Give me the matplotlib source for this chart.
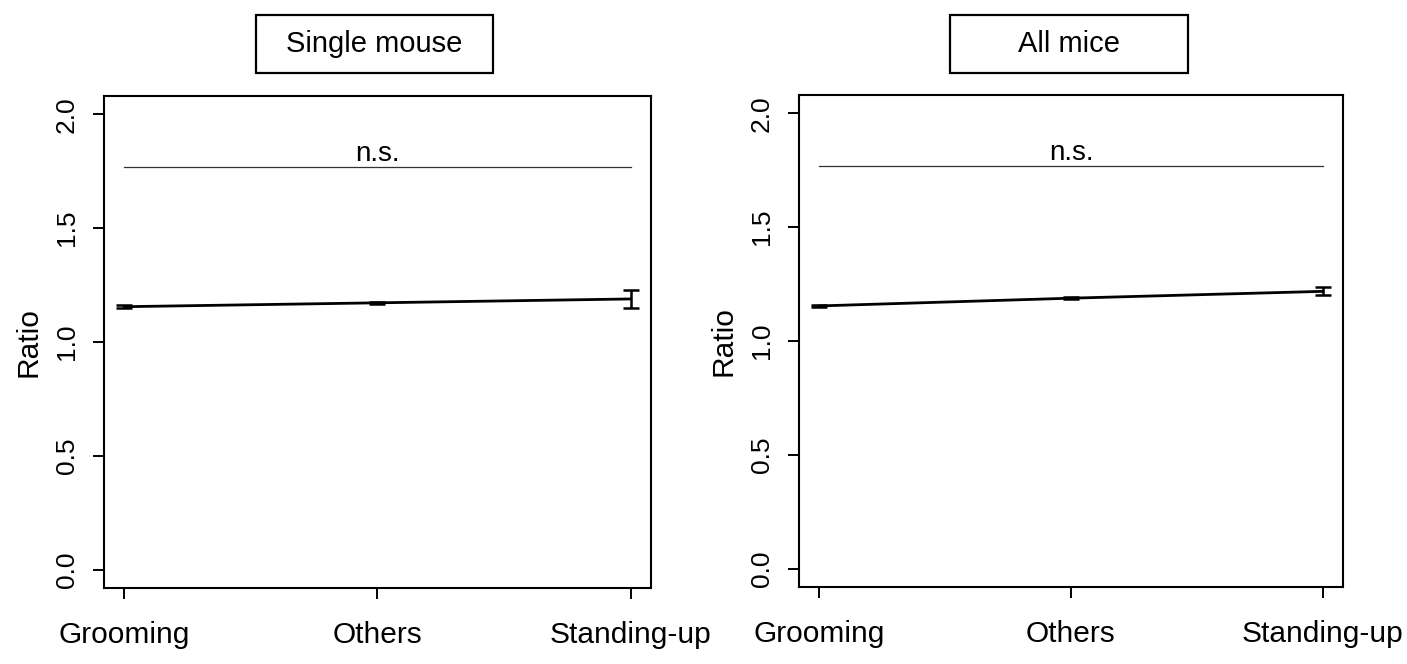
import matplotlib
matplotlib.use("Agg")
import matplotlib.pyplot as plt
from matplotlib.patches import Rectangle

plt.rcParams['font.family'] = ['Liberation Sans', 'DejaVu Sans']

categories = ["Grooming", "Others", "Standing-up"]
y_ticks = [0.0, 0.5, 1.0, 1.5, 2.0]
y_tick_labels = ["0.0", "0.5", "1.0", "1.5", "2.0"]

titles = ["Single mouse", "All mice"]

single_mean = [1.155, 1.172, 1.189]
single_err = [0.007, 0.005, 0.039]

all_mean = [1.154, 1.188, 1.218]
all_err = [0.006, 0.005, 0.018]

sig_level = [1.77, 1.77]
sig_text = ["n.s.", "n.s."]

W, H = 1407, 664
fig = plt.figure(figsize=(W / 100, H / 100), dpi=100)

# axes rectangles in pixels: left, right, top, bottom
axes_px = [(104, 651, 96, 588), (799, 1343, 95, 587)]
box_px = [(256, 493, 15, 73), (950, 1188, 15, 73)]

series = [(single_mean, single_err), (all_mean, all_err)]

for i, ((l, r, t, b), (bl, br, bt, bb)) in enumerate(zip(axes_px, box_px)):
    ax = fig.add_axes([l / W, (H - b) / H, (r - l) / W, (b - t) / H])
    means, errs = series[i]
    x = list(range(1, len(categories) + 1))
    ax.errorbar(x, means, yerr=errs, color='black', lw=2.0, elinewidth=1.8,
                capsize=6, capthick=1.8)
    ax.set_xlim(0.92, 3.08)
    ax.set_ylim(-0.08, 2.08)
    ax.set_xticks(x)
    ax.set_xticklabels(categories, fontsize=21.5)
    ax.set_yticks(y_ticks)
    ax.set_yticklabels(y_tick_labels, fontsize=19, rotation=90, va='center')
    ax.tick_params(axis='x', length=8, width=1.4, pad=16)
    ax.tick_params(axis='y', length=8, width=1.4, pad=10)
    for sp in ax.spines.values():
        sp.set_linewidth(1.5)
    ax.set_ylabel("Ratio", fontsize=21.5, labelpad=9)

    # significance line and label
    ax.plot([1, 3], [sig_level[i], sig_level[i]], color='#333333', lw=0.9)
    ax.annotate(sig_text[i], xy=(2, sig_level[i]), xytext=(0, 4),
                textcoords='offset points', ha='center', va='baseline',
                fontsize=20)

    # boxed panel title
    fig.patches.append(Rectangle((bl / W, 1 - bb / H), (br - bl) / W, (bb - bt) / H,
                                 transform=fig.transFigure, fill=False,
                                 edgecolor='black', lw=1.6))
    fig.text((bl + br) / 2 / W, 1 - (bt + bb) / 2 / H, titles[i],
             ha='center', va='center', fontsize=21)

fig.savefig("out.png", dpi=100)
